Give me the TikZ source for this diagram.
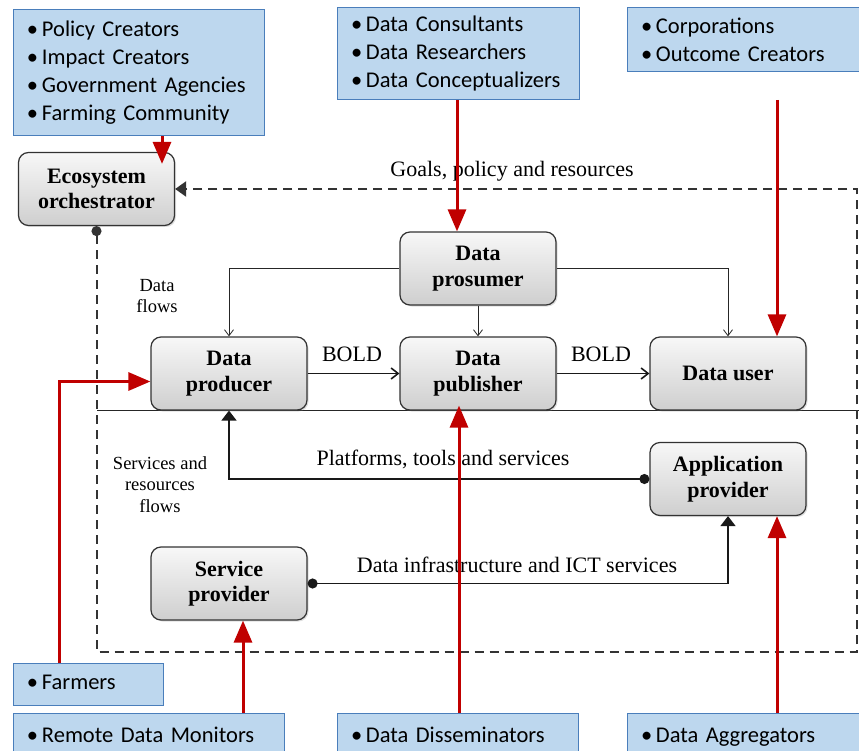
\documentclass[tikz,border=0pt]{standalone}
\usepackage{fontspec}
\setmainfont{Liberation Serif}
\newfontfamily\calib{Carlito}
\usetikzlibrary{arrows.meta,shadows}
\definecolor{redc}{HTML}{C00000}
\definecolor{bluefill}{HTML}{BDD7EE}
\definecolor{bluebd}{HTML}{4A7EBB}
\begin{document}
\begin{tikzpicture}[x=1pt,y=-1pt,
  gbox/.style={draw=black!80, line width=1.2pt, rounded corners=10pt,
    top color=gray!6, bottom color=gray!38, minimum width=156pt, minimum height=73pt,
    font=\fontsize{22}{25.5}\selectfont\bfseries, align=center, inner sep=0pt,
    drop shadow={opacity=0.25, shadow xshift=1.5pt, shadow yshift=-1.5pt}},
  bbox/.style={draw=bluebd, fill=bluefill, line width=1pt, inner xsep=14pt, inner ysep=0pt,
    font=\calib\fontsize{22.5}{28}\selectfont, align=left},
  lbl/.style={font=\fontsize{22}{25}\selectfont, inner sep=0pt},
  slbl/.style={font=\fontsize{18.5}{21.5}\selectfont, align=center, inner sep=0pt},
  redarr/.style={draw=redc, line width=3pt, -{Triangle[length=22pt,width=18pt]}},
  thinarr/.style={draw=black!85, line width=0.8pt, -{Straight Barb[length=6pt,width=9pt]}},
  boldarr/.style={draw=black!90, line width=1.6pt, -{Straight Barb[length=7pt,width=11pt]}},
  servarr/.style={draw=black!90, line width=1.6pt, {Circle[length=10pt]}-{Triangle[length=10pt,width=15pt]}},
  dline/.style={draw=black!80, line width=2pt, dash pattern=on 9pt off 6pt}
]
\useasboundingbox (0,0) rectangle (859,751);

% separator line
\coordinate (sepL) at (97,410);
\coordinate (sepR) at (859,410);
\draw[line width=1pt, black!85] (sepL) -- (sepR);

% gray boxes
\node[gbox] (eco)  at (96.5,189) {Ecosystem\\orchestrator};
\node[gbox] (pros) at (478,268.5) {Data\\prosumer};
\node[gbox] (prod) at (229,373.5) {Data\\producer};
\node[gbox] (pub)  at (478,373.5) {Data\\publisher};
\node[gbox] (user) at (728,373.5) {Data user};
\node[gbox] (app)  at (728,479) {Application\\provider};
\node[gbox] (serv) at (229,583.5) {Service\\provider};

% dashed frame
\coordinate (fbl) at (96.5,652);
\coordinate (fbr) at (857,652);
\coordinate (ftr) at (857,189);
\draw[dline, {Circle[length=10pt]}-{Triangle[length=11pt,width=15pt]}]
  (eco.south) -- (fbl) -- (fbr) -- (ftr) -- (eco.east);

% data flows
\draw[thinarr] (pros.west) -| (prod.north);
\draw[thinarr] (pros.east) -| (user.north);
\draw[thinarr] (pros.south) -- (pub.north);
\draw[boldarr] (prod.east) -- (pub.west);
\draw[boldarr] (pub.east) -- (user.west);
\draw[servarr] (app.west) -| (prod.south);
\draw[servarr] (serv.east) -| (app.south);

% labels
\node[lbl] (goals) at (512,171) {Goals, policy and resources};
\node[slbl] (dflows) at (157,296) {Data\\flows};
\node[lbl] (bold1) at (352,354) {BOLD};
\node[lbl] (bold2) at (601,354) {BOLD};
\node[slbl] (sflows) at (160,484.5) {Services and\\resources\\flows};
\node[lbl] (plat) at (443,459) {Platforms, tools and services};
\node[lbl] (infra) at (517,565) {Data infrastructure and ICT services};

% blue boxes
\node[bbox, minimum width=251pt, minimum height=126pt, text width=223pt] (tl) at (138.5,73)
  {•\,Policy Creators\\•\,Impact Creators\\•\,Government Agencies\\•\,Farming Community};
\node[bbox, minimum width=242pt, minimum height=92pt, text width=214pt] (tm) at (458,54)
  {•\,Data Consultants\\•\,Data Researchers\\•\,Data Conceptualizers};
\node[bbox, minimum width=236pt, minimum height=64pt, text width=208pt] (tr) at (745,40)
  {•\,Corporations\\•\,Outcome Creators};
\node[bbox, minimum width=150pt, minimum height=42pt, text width=122pt] (farm) at (88,684)
  {\strut•\,Farmers};
\node[bbox, minimum width=271pt, minimum height=48pt, text width=243pt] (rem) at (148.5,737)
  {\strut•\,Remote Data Monitors};
\node[bbox, minimum width=241pt, minimum height=48pt, text width=213pt] (dis) at (457.5,737)
  {\strut•\,Data Disseminators};
\node[bbox, minimum width=236pt, minimum height=48pt, text width=208pt] (agg) at (745,737)
  {\strut•\,Data Aggregators};

% red arrows
\coordinate (x1) at (162,0);
\coordinate (x2) at (457,0);
\coordinate (r3s) at (777,100);
\coordinate (x4) at (243,0);
\coordinate (x5) at (459,0);
\coordinate (x6) at (777,0);
\coordinate (x7) at (59,0);
\draw[redarr, shorten >=-12pt] (tl.south -| x1) -- (eco.north -| x1);
\draw[redarr] (tm.south -| x2) -- (pros.north -| x2);
\draw[redarr] (r3s) -- (r3s |- user.north);
\draw[redarr] (farm.north -| x7) |- ([yshift=-8pt]prod.west);
\draw[redarr] (rem.north -| x4) -- (serv.south -| x4);
\draw[redarr, shorten >=-5pt] (dis.north -| x5) -- (pub.south -| x5);
\draw[redarr] (agg.north -| x6) -- (app.south -| x6);
\end{tikzpicture}
\end{document}
